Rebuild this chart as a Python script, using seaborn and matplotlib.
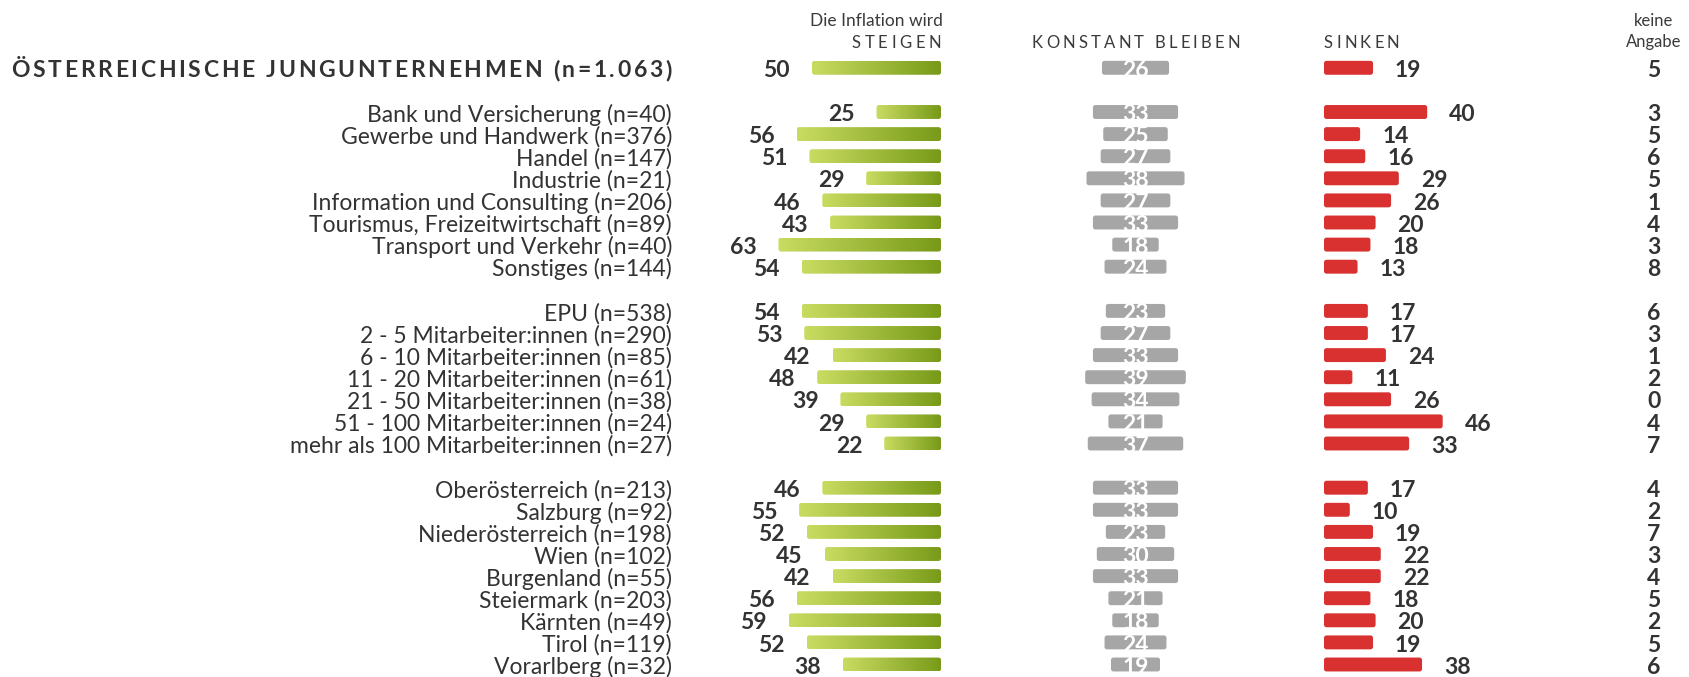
import numpy as np
import pandas as pd
import matplotlib
matplotlib.use("Agg")
import matplotlib.pyplot as plt
import seaborn as sns
from matplotlib.colors import LinearSegmentedColormap
from matplotlib.patches import FancyBboxPatch

# ---- data ----
title = "ÖSTERREICHISCHE JUNGUNTERNEHMEN (n=1.063)"
labels = [
    "Bank und Versicherung (n=40)", "Gewerbe und Handwerk (n=376)", "Handel (n=147)",
    "Industrie (n=21)", "Information und Consulting (n=206)",
    "Tourismus, Freizeitwirtschaft (n=89)", "Transport und Verkehr (n=40)", "Sonstiges (n=144)",
    "EPU (n=538)", "2 - 5 Mitarbeiter:innen (n=290)", "6 - 10 Mitarbeiter:innen (n=85)",
    "11 - 20 Mitarbeiter:innen (n=61)", "21 - 50 Mitarbeiter:innen (n=38)",
    "51 - 100 Mitarbeiter:innen (n=24)", "mehr als 100 Mitarbeiter:innen (n=27)",
    "Oberösterreich (n=213)", "Salzburg (n=92)", "Niederösterreich (n=198)", "Wien (n=102)",
    "Burgenland (n=55)", "Steiermark (n=203)", "Kärnten (n=49)", "Tirol (n=119)",
    "Vorarlberg (n=32)",
]
group_sizes = [8, 7, 9]

total_values = [50, 26, 19, 5]  # steigen, konstant, sinken, keine Angabe
steigen = [25, 56, 51, 29, 46, 43, 63, 54, 54, 53, 42, 48, 39, 29, 22,
           46, 55, 52, 45, 42, 56, 59, 52, 38]
konstant = [33, 25, 27, 38, 27, 33, 18, 24, 23, 27, 33, 39, 34, 21, 37,
            33, 33, 23, 30, 33, 21, 18, 24, 19]
sinken = [40, 14, 16, 29, 26, 20, 18, 13, 17, 17, 24, 11, 26, 46, 33,
          17, 10, 19, 22, 22, 18, 20, 19, 38]
keine = [3, 5, 6, 5, 1, 4, 3, 8, 6, 3, 1, 2, 0, 4, 7,
         4, 2, 7, 3, 4, 5, 2, 5, 6]

# ---- layout ----
W, H = 1690, 677
ROW0, ROW_H = 112.0, 22.1   # pixel y of first sub row, row pitch
PX_PCT = 2.58               # pixels per percentage point
TEXT = "#333333"
GREEN_LIGHT, GREEN_DARK = "#c9dc62", "#789a18"
GREY, RED = "#a6a6a6", "#d93030"

slots = []
s = 0
for n in group_sizes:
    slots += list(range(s, s + n))
    s += n + 1

df = pd.DataFrame({
    "label": [title] + labels,
    "slot": [-2] + slots,
    "steigen": [total_values[0]] + steigen,
    "konstant": [total_values[1]] + konstant,
    "sinken": [total_values[2]] + sinken,
    "keine": [total_values[3]] + keine,
})

y_top = (0 - ROW0) / ROW_H
y_bot = (H - ROW0) / ROW_H

sns.set_theme(style="white")
plt.rcParams["font.family"] = ["Lato", "DejaVu Sans"]

fig = plt.figure(figsize=(W / 100, H / 100), dpi=100)
base = fig.add_axes([0, 0, 1, 1])
base.set_xlim(0, W)
base.set_ylim(y_bot, y_top)
base.axis("off")


def px_axes(x0, x1):
    ax = fig.add_axes([x0 / W, 0, (x1 - x0) / W, 1])
    ax.set_ylim(y_bot, y_top)
    ax.axis("off")
    return ax


def round_bars(ax, color, shift_center=False, r_px=2.5):
    """swap seaborn's rectangles for slightly rounded ones"""
    rx = r_px / PX_PCT
    ry = r_px / ROW_H
    new = []
    for p in list(ax.patches):
        x, y, w, h = p.get_x(), p.get_y(), p.get_width(), p.get_height()
        if shift_center:
            x = -w / 2
        p.remove()
        fb = FancyBboxPatch((x, y), w, h, boxstyle=f"round,pad=0,rounding_size={rx}",
                            mutation_aspect=ry / rx, facecolor=color, edgecolor="none")
        ax.add_patch(fb)
        new.append(fb)
    return new


NUM_Y = 0.03  # numbers sit a hair below the bar centre
bold = dict(fontsize=16.5, fontweight="bold", color=TEXT, va="center_baseline")

# ---- STEIGEN (green gradient, growing to the left) ----
ax_g = px_axes(941 - 100 * PX_PCT, 941)
sns.barplot(data=df, x="steigen", y="slot", orient="h", native_scale=True,
            width=0.63, color=GREEN_DARK, errorbar=None, ax=ax_g)
cmap = LinearSegmentedColormap.from_list("grn", [GREEN_DARK, GREEN_LIGHT])
grad = np.linspace(0, 1, 256).reshape(1, -1)
for p in round_bars(ax_g, "none"):
    bb = p.get_bbox()
    im = ax_g.imshow(grad, cmap=cmap, aspect="auto", interpolation="bilinear",
                     extent=(bb.x0, bb.x1, bb.y1, bb.y0), zorder=2)
    im.set_clip_path(p)
ax_g.set_xlim(100, 0)
ax_g.set_ylim(y_bot, y_top)
ax_g.axis("off")
for v, sl in zip(df["steigen"], df["slot"]):
    ax_g.text(v + 22 / PX_PCT, sl + NUM_Y, str(v), ha="right", clip_on=False, **bold)

# ---- KONSTANT BLEIBEN (grey, centred) ----
ax_k = px_axes(1135.5 - 50 * PX_PCT, 1135.5 + 50 * PX_PCT)
sns.barplot(data=df, x="konstant", y="slot", orient="h", native_scale=True,
            width=0.63, color=GREY, errorbar=None, ax=ax_k)
round_bars(ax_k, GREY, shift_center=True)
ax_k.set_xlim(-50, 50)
ax_k.set_ylim(y_bot, y_top)
ax_k.axis("off")
for v, sl in zip(df["konstant"], df["slot"]):
    ax_k.text(0, sl + NUM_Y, str(v), ha="center", clip_on=False,
              **{**bold, "color": "white"})

# ---- SINKEN (red) ----
ax_r = px_axes(1324, 1324 + 100 * PX_PCT)
sns.barplot(data=df, x="sinken", y="slot", orient="h", native_scale=True,
            width=0.63, color=RED, errorbar=None, ax=ax_r)
round_bars(ax_r, RED)
ax_r.set_xlim(0, 100)
ax_r.set_ylim(y_bot, y_top)
ax_r.axis("off")
for v, sl in zip(df["sinken"], df["slot"]):
    ax_r.text(v + 22 / PX_PCT, sl + NUM_Y, str(v), ha="left", clip_on=False, **bold)

# ---- keine Angabe + row labels ----
for v, sl in zip(df["keine"], df["slot"]):
    base.text(1654, sl + NUM_Y, str(v), ha="center", **bold)
for lab, sl in zip(df["label"][1:], df["slot"][1:]):
    base.text(672, sl + NUM_Y, lab, ha="right", va="center_baseline", fontsize=16.5, color=TEXT)

renderer = fig.canvas.get_renderer()


def tracked(x, y, txt, track=None, ha="left", span=None, **kw):
    """text with extra letter spacing (pixels), drawn char by char"""
    def width(t):
        a = base.text(0, 0, t, **kw)
        w = a.get_window_extent(renderer).width
        a.remove()
        return w
    space_w = width("x x") - width("xx")
    ws = [space_w if ch == " " else width(ch) for ch in txt]
    if span is not None:
        track = (span - sum(ws)) / (len(txt) - 1)
    total = sum(ws) + track * (len(txt) - 1)
    if ha == "right":
        x -= total
    elif ha == "center":
        x -= total / 2
    for ch, w in zip(txt, ws):
        if ch != " ":
            base.text(x, y, ch, ha="left", **kw)
        x += w + track


y_h1 = (20 - ROW0) / ROW_H
y_h2 = (41 - ROW0) / ROW_H
cap = dict(fontsize=12, color="#3a3a3a", va="center_baseline")

tracked(11, -2 + NUM_Y, title, span=661, fontsize=16.5, fontweight="bold", color=TEXT,
        va="center_baseline")
base.text(943, y_h1, "Die Inflation wird", ha="right", fontsize=12.5, color="#3a3a3a",
          va="center_baseline")
tracked(941, y_h2, "STEIGEN", span=89, ha="right", **cap)
tracked(1136, y_h2, "KONSTANT BLEIBEN", 3.2, ha="center", **cap)
tracked(1324, y_h2, "SINKEN", 3.2, ha="left", **cap)
base.text(1654, y_h1, "keine", ha="center", fontsize=12, color="#3a3a3a", va="center_baseline")
base.text(1654, y_h2, "Angabe", ha="center", fontsize=12, color="#3a3a3a", va="center_baseline")

fig.savefig("out.png", dpi=100)
